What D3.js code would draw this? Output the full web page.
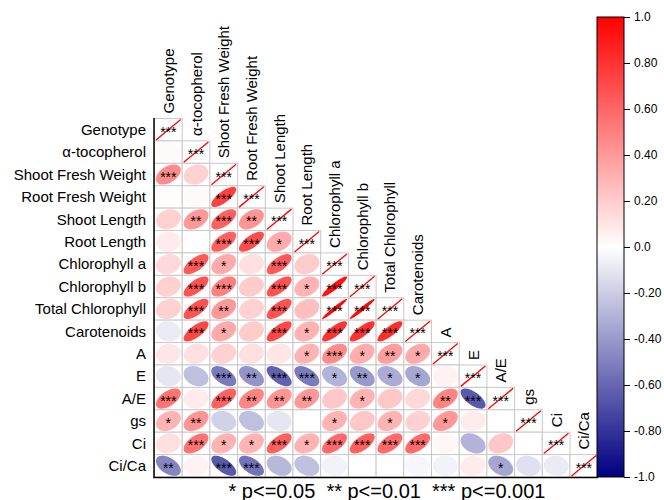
<!DOCTYPE html>
<html><head><meta charset="utf-8">
<script src="https://cdn.jsdelivr.net/npm/d3@7/dist/d3.min.js"></script>
<style>body{margin:0;background:#fff}svg{display:block;font-family:"Liberation Sans",Arial,sans-serif}</style>
</head><body><svg id="c" width="664" height="500"></svg>
<script>
const labels = ["Genotype","α-tocopherol","Shoot Fresh Weight","Root Fresh Weight","Shoot Length","Root Length","Chlorophyll a","Chlorophyll b","Total Chlorophyll","Carotenoids","A","E","A/E","gs","Ci","Ci/Ca"];
// lower triangle correlations, row i has i values (columns 0..i-1)
const corr = [
  [],
  [0.02],
  [0.45,0.18],
  [0.01,0.02,0.75],
  [0.18,0.40,0.62,0.42],
  [0.08,0.00,0.62,0.70,0.33],
  [0.15,0.65,0.33,0.12,0.65,0.20],
  [0.18,0.68,0.50,0.20,0.68,0.30,0.92],
  [0.18,0.68,0.40,0.18,0.68,0.25,0.97,0.97],
  [-0.08,0.72,0.33,0.20,0.72,0.30,0.80,0.80,0.82],
  [0.10,0.12,0.18,0.12,0.10,0.30,0.45,0.32,0.38,0.33],
  [-0.10,-0.25,-0.52,-0.42,-0.62,-0.52,-0.30,-0.40,-0.33,-0.35,0.05],
  [0.55,0.08,0.62,0.48,0.42,0.40,0.22,0.30,0.22,0.15,0.48,-0.65],
  [0.30,0.42,-0.18,-0.25,-0.10,0.00,0.30,0.22,0.30,0.18,0.40,0.08,0.00],
  [0.12,0.55,0.30,0.30,0.62,0.30,0.58,0.62,0.58,0.58,0.03,-0.30,0.22,0.00],
  [-0.48,0.05,-0.65,-0.55,-0.28,-0.25,-0.05,0.00,0.00,-0.03,-0.05,0.08,-0.35,-0.12,-0.08]
];
const stars = [
  [],
  [""],
  ["***",""],
  ["","","***"],
  ["","**","***","**"],
  ["","","***","***","*"],
  ["","***","*","","***",""],
  ["","***","***","","***","*","***"],
  ["","***","**","","***","","***","***"],
  ["","***","*","","***","*","***","***","***"],
  ["","","","","","*","***","*","**","*"],
  ["","","***","**","***","***","*","**","*","*",""],
  ["***","","***","**","**","**","","*","","","**","***"],
  ["*","**","","","","","*","","*","","*","",""],
  ["","***","*","*","***","*","***","***","***","***","","","",""],
  ["**","","***","***","","","","","","","","","*","",""]
];
const diagStars = "***";
const cbTicks = [1,0.8,0.6,0.4,0.2,0,-0.2,-0.4,-0.6,-0.8,-1];
const cbTickLabels = ["1.0","0.80","0.60","0.40","0.20","0.0","-0.20","-0.40","-0.60","-0.80","-1.0"];
const legendText = "* p<=0.05  ** p<=0.01  *** p<=0.001";

const svg = d3.select("#c");
const x = d3.scaleBand().domain(labels).range([154.5, 597.7]);
const y = d3.scaleBand().domain(labels).range([118.5, 477]);
const color = d3.scaleLinear().domain([-1,0,1]).range(["#00007f","#ffffff","#ff0000"]);
const cw = x.bandwidth(), ch = y.bandwidth();

const cells = [];
labels.forEach((ri,i)=>{ for(let j=0;j<=i;j++){ cells.push({i,j,r: i===j?1:corr[i][j], s: i===j?diagStars:stars[i][j]}); }});

const g = svg.append("g");
g.selectAll("rect.cell").data(cells).join("rect")
  .attr("x",d=>x(labels[d.j])).attr("y",d=>y(labels[d.i]))
  .attr("width",cw).attr("height",ch)
  .attr("fill","#fff").attr("stroke","#c8c8c8").attr("stroke-width",1);

function ellipsePath(r, cx, cy){
  const d = Math.acos(Math.max(-1,Math.min(1,r)));
  const pts=[];
  for(let k=0;k<=72;k++){
    const t = k/72*2*Math.PI;
    pts.push([cx + Math.cos(t+d/2)*0.45*cw, cy - Math.cos(t-d/2)*0.45*ch]);
  }
  return d3.line()(pts)+"Z";
}
g.selectAll("path.ell").data(cells.filter(d=>d.i!==d.j)).join("path")
  .attr("d",d=>ellipsePath(d.r, x(labels[d.j])+cw/2, y(labels[d.i])+ch/2))
  .attr("fill",d=>color(d.r)).attr("stroke","none");

g.selectAll("line.diag").data(cells.filter(d=>d.i===d.j)).join("line")
  .attr("x1",d=>x(labels[d.j])+1.5).attr("y1",d=>y(labels[d.i])+ch-1)
  .attr("x2",d=>x(labels[d.j])+cw-1.5).attr("y2",d=>y(labels[d.i])+1)
  .attr("stroke","#ff0000").attr("stroke-width",1.3);

g.selectAll("text.st").data(cells.filter(d=>d.s)).join("text")
  .attr("x",d=>x(labels[d.j])+cw/2).attr("y",d=>y(labels[d.i])+ch/2+7)
  .attr("text-anchor","middle").attr("font-size",14).attr("fill","#000")
  .text(d=>d.s);

svg.append("line").attr("x1",154).attr("x2",154).attr("y1",118).attr("y2",478).attr("stroke","#000").attr("stroke-width",1.5);
svg.append("line").attr("x1",153.5).attr("x2",598).attr("y1",477.5).attr("y2",477.5).attr("stroke","#000").attr("stroke-width",1.5);

svg.selectAll("text.rl").data(labels).join("text")
  .attr("x",146).attr("y",d=>y(d)+ch/2).attr("dy","0.35em")
  .attr("text-anchor","end").attr("font-size",15).attr("fill","#000").text(d=>d);

svg.selectAll("text.cl").data(labels).join("text")
  .attr("transform",d=>`translate(${x(d)+cw/2+5.5},${y(d)-5}) rotate(-90)`)
  .attr("text-anchor","start").attr("font-size",15).attr("fill","#000").text(d=>d);

const cbX=597, cbW=27, cbTop=17, cbBot=477;
const cyS = d3.scaleLinear().domain([-1,1]).range([cbBot,cbTop]);
const grad = svg.append("defs").append("linearGradient").attr("id","cbg").attr("x1",0).attr("x2",0).attr("y1",1).attr("y2",0);
d3.range(-1,1.0001,0.1).forEach(v=>grad.append("stop").attr("offset",(v+1)/2).attr("stop-color",color(v)));
svg.append("rect").attr("x",cbX).attr("y",cbTop).attr("width",cbW).attr("height",cbBot-cbTop)
  .attr("fill","url(#cbg)").attr("stroke","#000").attr("stroke-width",1);
const ax = d3.axisRight(cyS).tickValues(cbTicks).tickFormat((d,i)=>cbTickLabels[i]).tickSize(6).tickPadding(4);
const axg = svg.append("g").attr("transform",`translate(${cbX+cbW},0)`).call(ax);
axg.select(".domain").remove();
axg.selectAll("text").attr("font-size",12).attr("font-family","'Liberation Sans',Arial,sans-serif").attr("fill","#000");
axg.selectAll("line").attr("stroke","#000");

svg.append("text").attr("x",387).attr("y",498).attr("text-anchor","middle")
  .attr("font-size",20).style("white-space","pre").attr("fill","#000").text(legendText);
</script></body></html>
